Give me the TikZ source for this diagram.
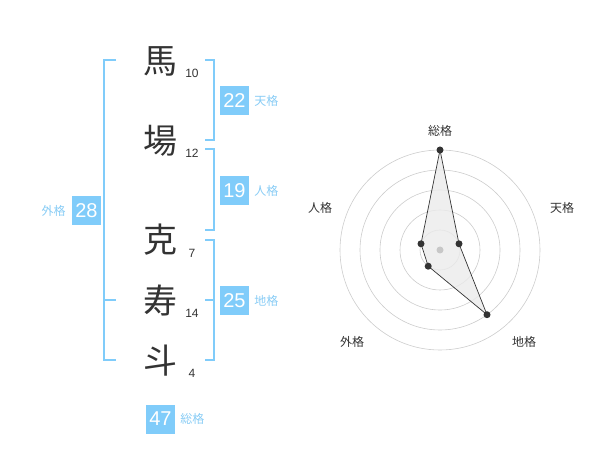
\documentclass[tikz,border=0pt]{standalone}
\usepackage{fontspec}
\setmainfont{Liberation Sans}
\newfontfamily\jpfont{Noto Sans CJK JP}
\usetikzlibrary{positioning}
\definecolor{seimei}{RGB}{128,204,250}
\definecolor{seimeitext}{RGB}{136,204,245}
\definecolor{ink}{RGB}{51,51,51}

\begin{document}
\begin{tikzpicture}[x=1pt,y=-1pt,
  kanji/.style={font=\jpfont\fontsize{34}{34}\selectfont,text=ink,inner sep=0pt},
  strokes/.style={font=\fontsize{12}{12}\selectfont,text=ink,inner sep=0pt},
  scorebox/.style={fill=seimei,text=white,minimum size=29pt,inner sep=0pt,
    font=\fontsize{20}{20}\selectfont},
  kakuname/.style={font=\jpfont\fontsize{12}{12}\selectfont,text=seimeitext,inner sep=0pt},
  bracket/.style={draw=seimei,line width=2pt},
  ring/.style={draw=black!20,line width=0.6pt},
  axisname/.style={font=\jpfont\fontsize{12}{12}\selectfont,text=ink,inner sep=0pt},
  radardot/.style={circle,fill=ink,inner sep=0pt,minimum size=7pt}]
  \useasboundingbox (0,0) rectangle (600,470);

  % name characters and stroke counts
  \node[kanji] (c1) at (160,61) {馬};
  \node[kanji] (c2) at (160,141) {場};
  \node[kanji] (c3) at (160,240) {克};
  \node[kanji] (c4) at (160,300) {寿};
  \node[kanji] (c5) at (160,361) {斗};
  \node[strokes] (s1) at (192,73) {10};
  \node[strokes] (s2) at (192,153) {12};
  \node[strokes] (s3) at (192,253) {7};
  \node[strokes] (s4) at (192,313) {14};
  \node[strokes] (s5) at (192,373) {4};

  % brackets
  \draw[bracket]
    (205,60) -- (214,60) -- (214,140) -- (205,140);
  \draw[bracket]
    (205,149) -- (214,149) -- (214,230) -- (205,230);
  \draw[bracket]
    (205,240) -- (214,240) -- (214,360) -- (205,360);
  \draw[bracket]
    (205,300) -- (214,300);
  \draw[bracket]
    (116,60) -- (104,60) -- (104,360) -- (116,360);
  \draw[bracket]
    (104,300) -- (116,300);

  % scores
  \node[scorebox] (ten) at (234.5,100.5) {22};
  \node[kakuname,right=5pt of ten] (tenname) {天格};
  \node[scorebox] (jin) at (234.5,190.5) {19};
  \node[kakuname,right=5pt of jin] (jinname) {人格};
  \node[scorebox] (chi) at (234.5,300.5) {25};
  \node[kakuname,right=5pt of chi] (chiname) {地格};
  \node[scorebox] (gai) at (86.5,210.5) {28};
  \node[kakuname,left=6pt of gai] (gainame) {外格};
  \node[scorebox] (sou) at (160.5,419) {47};
  \node[kakuname,right=5pt of sou] (souname) {総格};

  % radar chart
  \coordinate (o) at (440,250);
  \foreach \r in {20,40,60,80,100}
    \draw[ring] (o) circle[radius=\r];
  \coordinate (psou) at (440,150);
  \coordinate (pten) at (459.0,243.8);
  \coordinate (pchi) at (487.0,314.7);
  \coordinate (pgai) at (428.2,266.2);
  \coordinate (pjin) at (421.0,243.8);
  \draw[fill=black!8,fill opacity=0.8,draw=ink,line width=0.7pt]
    (psou) -- (pten) -- (pchi) -- (pgai) -- (pjin) -- cycle;
  \fill[black!22] (o) circle[radius=3.5];
  \foreach \p in {psou,pten,pchi,pgai,pjin}
    \node[radardot] at (\p) {};
  \node[axisname] (lsou) at (440,131) {総格};
  \node[axisname] (lten) at (562,208) {天格};
  \node[axisname] (lchi) at (524,342) {地格};
  \node[axisname] (lgai) at (352,342) {外格};
  \node[axisname] (ljin) at (320,208) {人格};
\end{tikzpicture}
\end{document}
